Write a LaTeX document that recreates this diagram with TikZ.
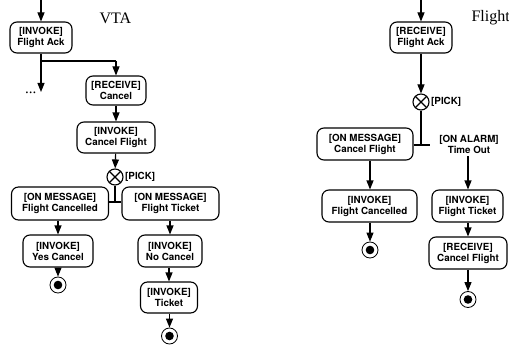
\documentclass[tikz,border=0pt]{standalone}
\usepackage{fontspec}
\setsansfont{TeX Gyre Heros}
\newfontfamily\titlefont{Liberation Serif}
\usetikzlibrary{arrows.meta}
\begin{document}
\begin{tikzpicture}[x=1pt,y=-1pt,
  act/.style={draw,line width=1.1pt,rounded corners=7pt,align=center,
    font=\sffamily\bfseries\fontsize{9.8}{11}\selectfont,inner sep=0pt,minimum height=31pt},
  lbl/.style={align=center,font=\sffamily\bfseries\fontsize{9.8}{11}\selectfont,inner sep=0pt},
  pickc/.style={draw,circle,line width=1.1pt,minimum size=16pt,inner sep=0pt,
    path picture={\draw[line width=1.1pt] (path picture bounding box.north west)--(path picture bounding box.south east)
      (path picture bounding box.north east)--(path picture bounding box.south west);}},
  endc/.style={draw,circle,line width=0.8pt,minimum size=16pt,inner sep=0pt,
    path picture={\fill (path picture bounding box.center) circle (4.3pt);}},
  flow/.style={line width=1.1pt,-{Triangle[length=9pt,width=7pt]}},
  ln/.style={line width=1.1pt}]
\useasboundingbox (0,0) rectangle (509,345);
% ---------- VTA ----------
\node[font=\titlefont\fontsize{16}{16}\selectfont,anchor=west] (vta) at (96,18) {VTA};
\coordinate (topA) at (41,0);
\node[act,minimum width=62pt] (a1) at (41,37.5) {[INVOKE]\\Flight Ack};
\coordinate (splitA) at (41,61);
\coordinate (turnA) at (116,61);
\coordinate (dotsend) at (41,92);
\node[font=\titlefont\fontsize{15}{15}\selectfont,anchor=base west,inner sep=0pt] (dots) at (25,94) {...};
\node[act,minimum width=60pt,minimum height=29pt] (a2) at (116,90.5) {[RECEIVE]\\Cancel};
\node[act,minimum width=78pt] (a3) at (116,137.5) {[INVOKE]\\Cancel Flight};
\node[pickc] (p1) at (115,177) {};
\node[lbl,anchor=west] (p1l) at (125,177) {[PICK]};
\coordinate (jA) at (115,202);
\node[act,minimum width=97pt,minimum height=33pt] (a4) at (60,203.5) {[ON MESSAGE]\\Flight Cancelled};
\node[act,minimum width=97pt,minimum height=33pt] (a5) at (170.5,203.5) {[ON MESSAGE]\\Flight Ticket};
\node[act,minimum width=70pt,minimum height=32pt] (a6) at (58,251) {[INVOKE]\\Yes Cancel};
\node[act,minimum width=64pt,minimum height=32pt] (a7) at (170,251) {[INVOKE]\\No Cancel};
\node[act,minimum width=57pt] (a8) at (169,297.5) {[INVOKE]\\Ticket};
\node[endc] (e1) at (58,285) {};
\node[endc] (e2) at (169.5,336) {};
\draw[flow] (topA) -- (a1);
\draw[flow] (a1.south) -- (dotsend);
\draw[ln] (splitA) -- (turnA);
\draw[flow] (turnA) -- (a2);
\draw[flow] (a2) -- (a3);
\draw[flow] (a3) -- (p1);
\draw[ln] (p1) -- (jA);
\draw[ln] (a4.east |- jA) -- (a5.west |- jA);
\draw[flow] (a4.south -| a6) -- (a6);
\draw[flow] (a5.south -| a7) -- (a7);
\draw[flow] (a6) -- (e1);
\draw[flow] (a7.south -| a8) -- (a8);
\draw[flow] (a8.south -| e2) -- (e2);
% ---------- Flight ----------
\node[font=\titlefont\fontsize{16}{16}\selectfont,anchor=west] (fl) at (468,18) {Flight};
\coordinate (topB) at (421,0);
\node[act,minimum width=62pt] (b1) at (421,37.5) {[RECEIVE]\\Flight Ack};
\node[pickc] (p2) at (421,102) {};
\node[lbl,anchor=west] (p2l) at (431,102) {[PICK]};
\coordinate (jB) at (421,145);
\coordinate (jBr) at (430,145);
\node[act,minimum width=96pt,minimum height=32pt] (b2) at (365,144) {[ON MESSAGE]\\Cancel Flight};
\node[lbl] (b3) at (469,144) {[ON ALARM]\\Time Out};
\node[act,minimum width=95pt,minimum height=32pt] (b4) at (369.5,206) {[INVOKE]\\Flight Cancelled};
\node[act,minimum width=71pt,minimum height=32pt] (b5) at (467.5,206) {[INVOKE]\\Flight Ticket};
\node[act,minimum width=78pt,minimum height=32pt] (b6) at (468,253) {[RECEIVE]\\Cancel Flight};
\node[endc] (e3) at (370,250) {};
\node[endc] (e4) at (468,299.5) {};
\draw[flow] (topB) -- (b1);
\draw[flow] (b1) -- (p2);
\draw[ln] (p2) -- (jB);
\draw[ln] (b2.east |- jB) -- (jBr);
\draw[flow] (b2.south -| e3) -- (b4.north -| e3);
\draw[flow] ([yshift=-3pt]b3.south -| b6) -- (b5.north -| b6);
\draw[flow] (b4.south -| e3) -- (e3);
\draw[flow] (b5.south -| b6) -- (b6);
\draw[flow] (b6) -- (e4);
\end{tikzpicture}
\end{document}
